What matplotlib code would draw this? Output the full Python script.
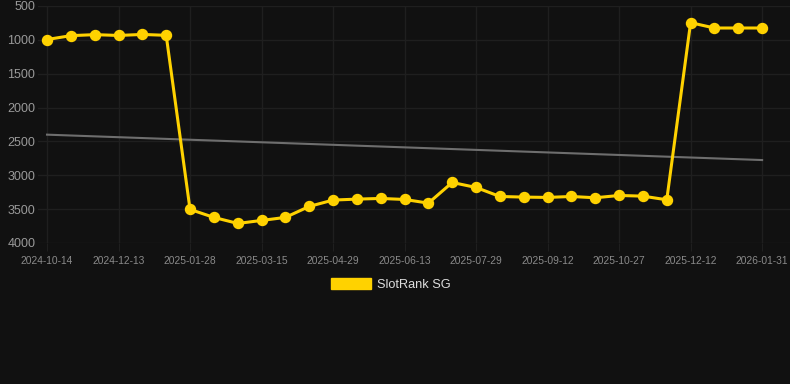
import matplotlib.pyplot as plt
from matplotlib.patches import Patch

plt.rcParams['font.family'] = ['Liberation Sans', 'DejaVu Sans']

# rank values (lower = better), one point per period
ranks = [995, 938, 923, 935, 920, 933,
         3504, 3622, 3711, 3667, 3622, 3460, 3366, 3352, 3342, 3357, 3411,
         3106, 3180, 3313, 3322, 3327, 3313, 3332, 3298, 3308, 3362,
         746, 825, 825, 825]
tick_labels = ['2024-10-14', '2024-12-13', '2025-01-28', '2025-03-15', '2025-04-29',
               '2025-06-13', '2025-07-29', '2025-09-12', '2025-10-27', '2025-12-12',
               '2026-01-31']
trend = [2400, 2775]  # trend line start / end

bg = '#111111'
grid = '#1f1f1f'
gold = '#FFD200'

fig = plt.figure(figsize=(7.9, 3.84), dpi=100, facecolor=bg)
ax = fig.add_axes([38 / 790, 1 - 243 / 384, 752 / 790, 237 / 384])
ax.set_facecolor(bg)

x = list(range(len(ranks)))
ax.plot([x[0], x[-1]], trend, color='#6e6e6e', lw=1.5, zorder=2)
ax.plot(x, ranks, color=gold, lw=2.2, marker='o', markersize=7.2, zorder=3)

ax.set_xlim(-0.378, 31.17)
ax.set_ylim(4000, 500)
ax.set_yticks([500, 1000, 1500, 2000, 2500, 3000, 3500, 4000])
ax.set_xticks(x[::3])
ax.set_xticklabels(tick_labels)

ax.grid(True, color=grid, lw=1)
ax.set_axisbelow(True)
for s in ax.spines.values():
    s.set_visible(False)
ax.tick_params(axis='y', length=0, pad=2, labelsize=9, labelcolor='#9a9a9a')
ax.tick_params(axis='x', length=6, color=grid, pad=3, labelsize=7.4, labelcolor='#8a8a8a')

handle = Patch(facecolor=gold, edgecolor=gold)
fig.legend([handle], ['SlotRank SG'], loc='center', bbox_to_anchor=(0.495, 0.26),
           frameon=False, fontsize=9.2, labelcolor='#dddddd',
           handlelength=3.1, handleheight=0.95, handletextpad=0.5)

fig.savefig('out.png', dpi=100, facecolor=bg)
